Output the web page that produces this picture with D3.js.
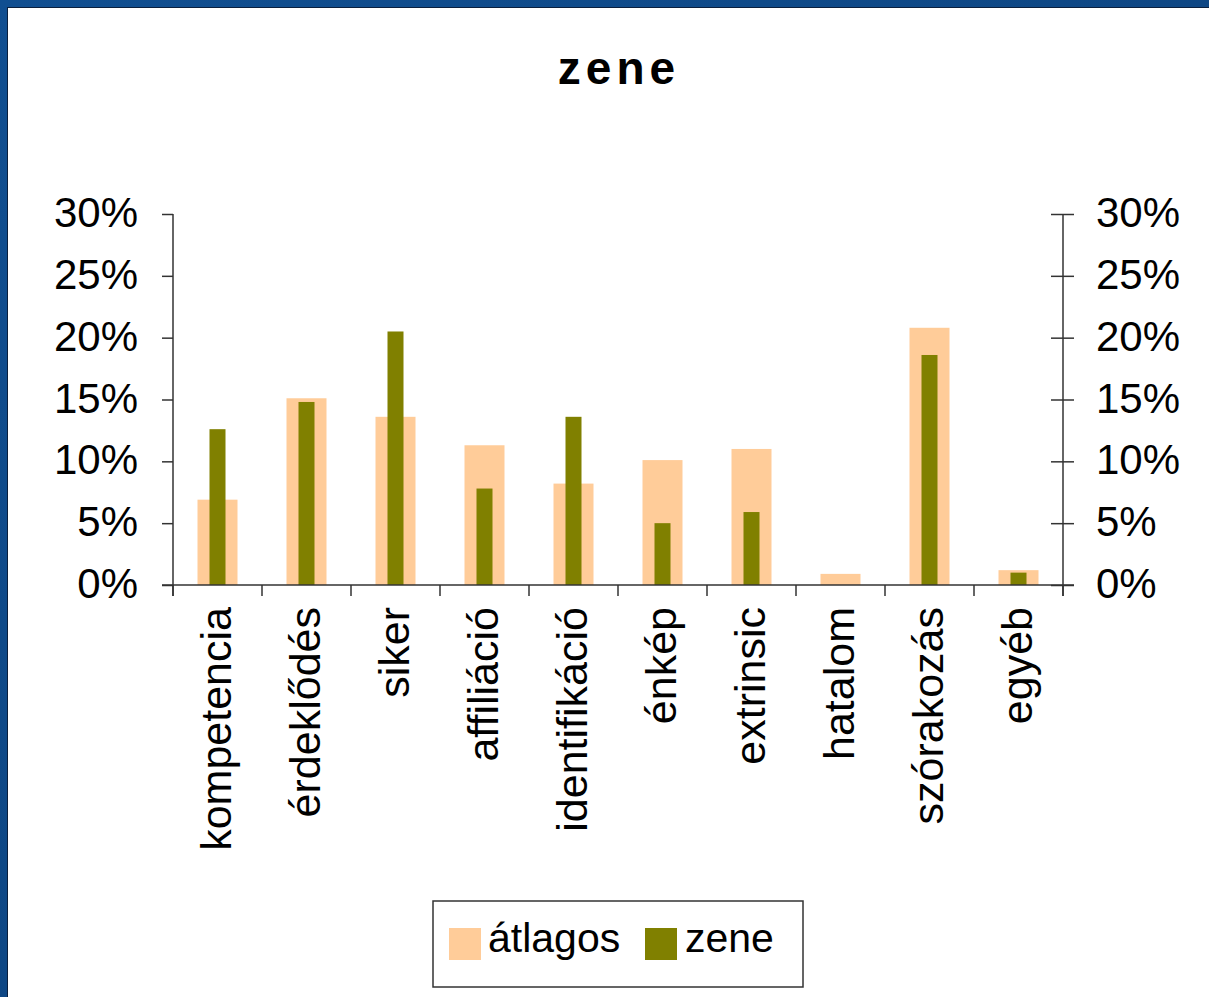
<!DOCTYPE html>
<html>
<head>
<meta charset="utf-8">
<script src="https://cdn.jsdelivr.net/npm/d3@7"></script>
<style>
  html, body { margin: 0; padding: 0; background: #0f4a8a; }
  svg { display: block; }
  text { font-family: "Liberation Sans", Arial, sans-serif; fill: #000; }
</style>
</head>
<body>
<svg id="chart" width="1209" height="997"></svg>
<script>
const categories = ["kompetencia", "érdeklődés", "siker", "affiliáció", "identifikáció", "énkép", "extrinsic", "hatalom", "szórakozás", "egyéb"];
const atlagos = [6.9, 15.1, 13.6, 11.3, 8.2, 10.1, 11.0, 0.9, 20.8, 1.2];
const zene = [12.6, 14.8, 20.5, 7.8, 13.6, 5.0, 5.9, 0, 18.6, 1.0];
const yTicks = [0, 5, 10, 15, 20, 25, 30];
const seriesNames = ["átlagos", "zene"];
const title = "zene";

const colors = { "átlagos": "#ffcc99", "zene": "#808000" };

const svg = d3.select("#chart");
const W = 1209, H = 997;

// background (blue slide border)
const defs = svg.append("defs");
const grad = defs.append("linearGradient").attr("id", "bg").attr("x1", 0).attr("y1", 0).attr("x2", 1).attr("y2", 1);
grad.append("stop").attr("offset", "0%").attr("stop-color", "#114f91");
grad.append("stop").attr("offset", "100%").attr("stop-color", "#0b3f78");
svg.append("rect").attr("width", W).attr("height", H).attr("fill", "url(#bg)");
svg.append("rect").attr("x", 7).attr("y", 7).attr("width", W).attr("height", H).attr("fill", "#0a1f3d");
svg.append("rect").attr("x", 8).attr("y", 8).attr("width", W).attr("height", H).attr("fill", "#ffffff");

const pLeft = 173, pRight = 1063, pTop = 214, pBottom = 585;

const x = d3.scaleBand().domain(categories).range([pLeft, pRight]).paddingInner(0).paddingOuter(0);
const y = d3.scaleLinear().domain([0, 30]).range([pBottom, pTop]);

// title
svg.append("text")
  .attr("x", 619).attr("y", 84)
  .attr("text-anchor", "middle")
  .style("font-size", "46px").style("font-weight", "bold").style("letter-spacing", "5px")
  .text(title);

const axisColor = "#333";

// bars
const g = svg.append("g");
const wideW = 40, narrowW = 16;
g.selectAll("rect.atl").data(categories).join("rect")
  .attr("class", "atl")
  .attr("x", (d) => x(d) + x.bandwidth() / 2 - wideW / 2)
  .attr("width", wideW)
  .attr("y", (d, i) => y(atlagos[i]))
  .attr("height", (d, i) => y(0) - y(atlagos[i]))
  .attr("fill", colors["átlagos"]);
g.selectAll("rect.zen").data(categories).join("rect")
  .attr("class", "zen")
  .attr("x", (d) => x(d) + x.bandwidth() / 2 - narrowW / 2)
  .attr("width", narrowW)
  .attr("y", (d, i) => y(zene[i]))
  .attr("height", (d, i) => y(0) - y(zene[i]))
  .attr("fill", colors["zene"]);

// left axis
const yAxisL = d3.axisLeft(y).tickValues(yTicks).tickFormat((d) => d + "%").tickSize(11).tickPadding(24);
const gL = svg.append("g").attr("transform", `translate(${pLeft},0)`).call(yAxisL);
gL.select(".domain").remove();
gL.append("line").attr("x1", 0).attr("x2", 0).attr("y1", pTop).attr("y2", pBottom + 11).attr("stroke", axisColor).attr("stroke-width", 1.5);
gL.selectAll(".tick line").attr("stroke", axisColor).attr("stroke-width", 1.5);
gL.selectAll(".tick text").style("font-size", "42px").attr("dy", "0.3em").attr("fill", "#000");

// right axis
const yAxisR = d3.axisRight(y).tickValues(yTicks).tickFormat((d) => d + "%").tickSize(11).tickPadding(22);
const gR = svg.append("g").attr("transform", `translate(${pRight},0)`).call(yAxisR);
gR.select(".domain").remove();
gR.append("line").attr("x1", 0).attr("x2", 0).attr("y1", pTop).attr("y2", pBottom + 11).attr("stroke", axisColor).attr("stroke-width", 1.5);
gR.selectAll(".tick line").attr("x1", -12).attr("stroke", axisColor).attr("stroke-width", 1.5);
gR.selectAll(".tick text").style("font-size", "42px").attr("dy", "0.3em").attr("fill", "#000");

// x axis
const gX = svg.append("g").attr("transform", `translate(0,${pBottom})`);
gX.append("line").attr("x1", pLeft - 11).attr("x2", pRight + 11).attr("y1", 0).attr("y2", 0).attr("stroke", axisColor).attr("stroke-width", 1.5);
const bounds = categories.map((d) => x(d)).concat([pRight]);
gX.selectAll("line.tk").data(bounds).join("line")
  .attr("class", "tk")
  .attr("x1", (d) => d).attr("x2", (d) => d)
  .attr("y1", 0).attr("y2", 11)
  .attr("stroke", axisColor).attr("stroke-width", 1.5);
gX.selectAll("text.cat").data(categories).join("text")
  .attr("class", "cat")
  .attr("transform", (d) => `translate(${x(d) + x.bandwidth() / 2 + 13},22) rotate(-90)`)
  .attr("text-anchor", "end")
  .style("font-size", "43px")
  .text((d) => d);

// legend
const lg = svg.append("g");
lg.append("rect").attr("x", 433).attr("y", 901).attr("width", 370).attr("height", 86)
  .attr("fill", "#fff").attr("stroke", "#333").attr("stroke-width", 1.5);
const legendItems = [
  { name: seriesNames[0], sx: 449, tx: 488 },
  { name: seriesNames[1], sx: 645, tx: 685 }
];
lg.selectAll("rect.sw").data(legendItems).join("rect")
  .attr("class", "sw")
  .attr("x", (d) => d.sx).attr("y", 928).attr("width", 32).attr("height", 32)
  .attr("fill", (d) => colors[d.name]);
lg.selectAll("text.lt").data(legendItems).join("text")
  .attr("class", "lt")
  .attr("x", (d) => d.tx).attr("y", 952)
  .style("font-size", "41px")
  .text((d) => d.name);
</script>
</body>
</html>
